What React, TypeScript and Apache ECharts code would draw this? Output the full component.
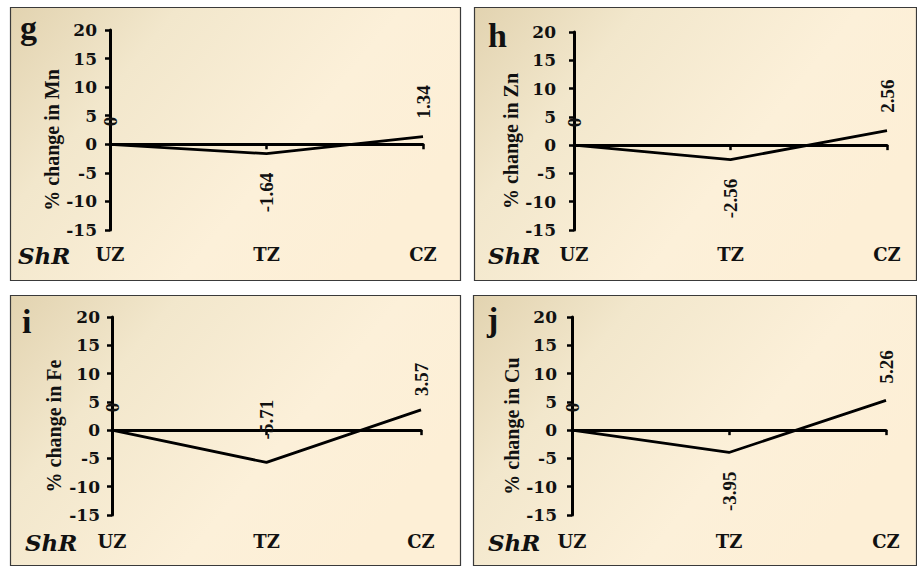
import React, { useEffect, useRef } from "react";
import * as echarts from "echarts";

const categories = ["UZ", "TZ", "CZ"];
const mnChange = [0, -1.64, 1.34];
const znChange = [0, -2.56, 2.56];
const feChange = [0, -5.71, 3.57];
const cuChange = [0, -3.95, 5.26];
const yMin = -15;
const yMax = 20;
const yInterval = 5;
const panelLetters = ["g", "h", "i", "j"];
const axisNames = ["% change in Mn", "% change in Zn", "% change in Fe", "% change in Cu"];
const zoneLabel = "ShR";

const SERIF_WIDE = "'DejaVu Serif', serif";
const SERIF = "'Liberation Serif', 'Times New Roman', serif";

// layout (positions / styles only)
const layout = [
  { box: [10, 7, 450, 273], grid: [110, 30, 313, 200], letter: [20, 27], shr: [18, 255], tickMargin: 13, catMargin: 15, above: [true, false, true], dist: [18, 19, 18] },
  { box: [474, 7, 442, 273], grid: [574, 32, 313, 198], letter: [488, 35], shr: [488, 255], tickMargin: 18, catMargin: 15, above: [true, false, true], dist: [18, 19, 18] },
  { box: [10, 295, 450, 270], grid: [112, 317, 309, 198], letter: [22, 321], shr: [25, 542], tickMargin: 12, catMargin: 17, above: [true, true, true], dist: [18, 23, 14] },
  { box: [473, 295, 443, 270], grid: [572, 317, 314, 198], letter: [487, 319], shr: [488, 542], tickMargin: 15, catMargin: 17, above: [true, false, true], dist: [18, 19, 17] },
];

const seriesValues = [mnChange, znChange, feChange, cuChange];

export default function App() {
  const ref = useRef<HTMLDivElement>(null);
  useEffect(() => {
    if (!ref.current) return;
    const chart = echarts.init(ref.current, undefined, { renderer: "svg" });

    const grids: any[] = [];
    const xAxes: any[] = [];
    const yAxes: any[] = [];
    const series: any[] = [];
    const graphics: any[] = [];

    layout.forEach((p, i) => {
      const [gl, gt, gw, gh] = p.grid;
      grids.push({ left: gl, top: gt, width: gw, height: gh, containLabel: false });
      xAxes.push({
        type: "category",
        gridIndex: i,
        data: categories,
        boundaryGap: false,
        position: "bottom",
        axisLine: { show: true, onZero: true, lineStyle: { color: "#000", width: 3 } },
        axisTick: { show: true, length: 5, lineStyle: { color: "#000", width: 2.5 } },
        axisLabel: { show: false },
        splitLine: { show: false },
      });
      xAxes.push({
        type: "category",
        gridIndex: i,
        data: categories,
        boundaryGap: false,
        position: "bottom",
        axisLine: { show: false, onZero: false },
        axisTick: { show: false },
        axisLabel: {
          show: true,
          margin: p.catMargin,
          color: "#111",
          fontFamily: SERIF_WIDE,
          fontWeight: "bold",
          fontSize: 18,
        },
        splitLine: { show: false },
      });
      yAxes.push({
        type: "value",
        gridIndex: i,
        min: yMin,
        max: yMax,
        interval: yInterval,
        position: "left",
        name: axisNames[i],
        nameLocation: "middle",
        nameRotate: 90,
        nameGap: 48,
        nameTextStyle: {
          color: "#111",
          fontFamily: SERIF,
          fontWeight: "bold",
          fontSize: 20,
          padding: [0, 20, 0, 0],
        },
        axisLine: { show: true, lineStyle: { color: "#000", width: 3 } },
        axisTick: { show: true, length: 5, lineStyle: { color: "#000", width: 2.5 } },
        axisLabel: {
          margin: p.tickMargin,
          color: "#111",
          fontFamily: SERIF_WIDE,
          fontWeight: "bold",
          fontSize: 17,
        },
        splitLine: { show: false },
      });
      const vals = seriesValues[i];
      series.push({
        type: "line",
        xAxisIndex: i * 2,
        yAxisIndex: i,
        symbol: "circle",
        symbolSize: 0.01,
        showSymbol: true,
        lineStyle: { color: "#000", width: 2.8 },
        itemStyle: { color: "#000" },
        z: 5,
        data: vals.map((v, k) => ({
          value: v,
          label: {
            show: true,
            position: p.above[k] ? "top" : "bottom",
            distance: p.dist[k],
            rotate: 90,
            align: p.above[k] ? "left" : "right",
            verticalAlign: "middle",
            formatter: String(v),
            color: "#111",
            fontFamily: SERIF,
            fontWeight: "bold",
            fontSize: 19,
          },
        })),
      });

      const [bx, by, bw, bh] = p.box;
      graphics.push({
        type: "rect",
        z: -10,
        shape: { x: bx + 0.5, y: by + 0.5, width: bw, height: bh },
        style: {
          fill: new echarts.graphic.LinearGradient(0, 0, 1, 0.5, [
            { offset: 0, color: "#e2d3b0" },
            { offset: 0.3, color: "#f2e7cc" },
            { offset: 0.7, color: "#fcf0d9" },
            { offset: 1, color: "#fdefd6" },
          ]),
          stroke: "#3a3a3a",
          lineWidth: 1.2,
        },
      });
      graphics.push({
        type: "text",
        z: 10,
        x: p.letter[0],
        y: p.letter[1],
        style: {
          text: panelLetters[i],
          fill: "#111",
          font: `bold 34px ${SERIF}`,
          align: "left",
          verticalAlign: "middle",
        },
      });
      graphics.push({
        type: "text",
        z: 10,
        x: p.shr[0],
        y: p.shr[1],
        style: {
          text: zoneLabel,
          fill: "#111",
          font: `italic bold 23px ${SERIF_WIDE}`,
          align: "left",
          verticalAlign: "middle",
        },
      });
    });

    chart.setOption({
      animation: false,
      backgroundColor: "#ffffff",
      grid: grids,
      xAxis: xAxes,
      yAxis: yAxes,
      series,
      graphic: graphics,
    });
    return () => chart.dispose();
  }, []);
  return (
    <div
      ref={ref}
      style={{ position: "absolute", left: 0, top: 0, width: 917, height: 567 }}
    />
  );
}
